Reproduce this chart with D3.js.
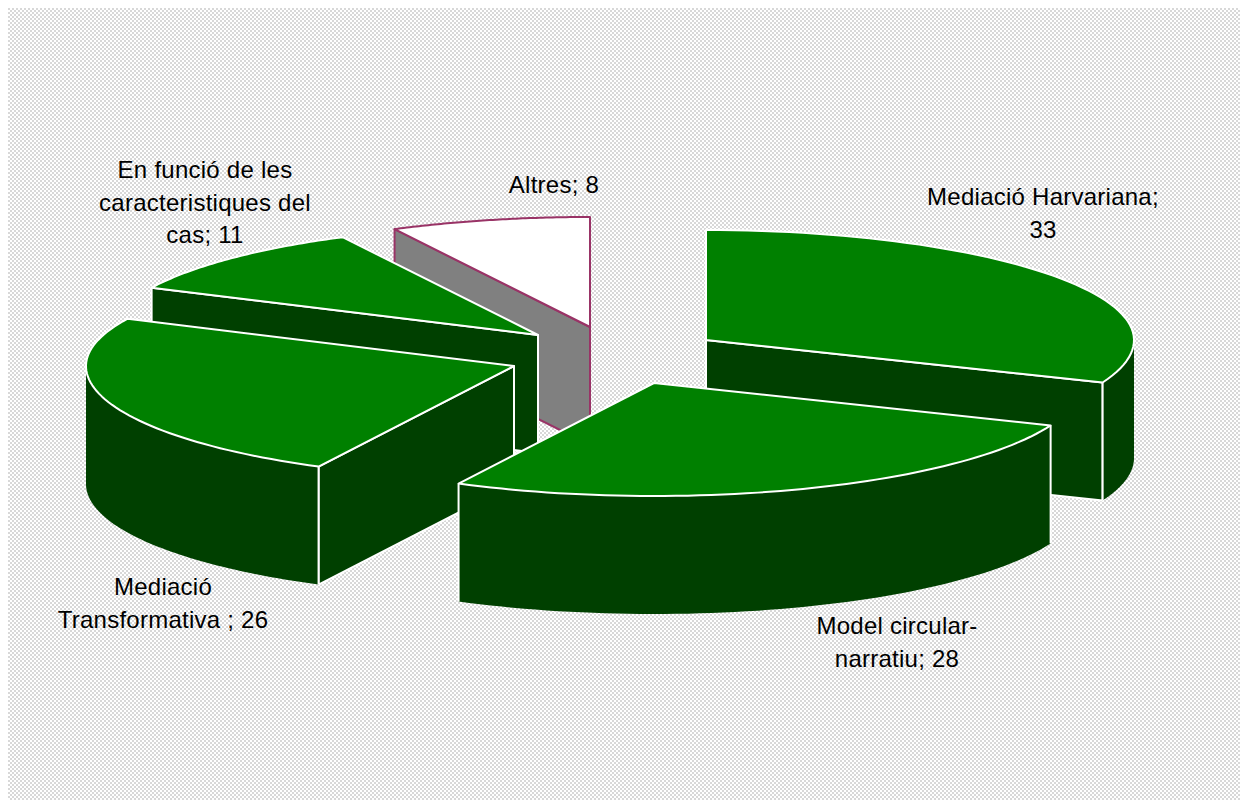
<!DOCTYPE html>
<html>
<head>
<meta charset="utf-8">
<script src="https://cdn.jsdelivr.net/npm/d3@7"></script>
<style>
  html, body { margin: 0; padding: 0; background: #fff; }
  text { font-family: "Liberation Sans", Arial, sans-serif; font-size: 24px; letter-spacing: 0.25px; fill: #000; }
</style>
</head>
<body>
<div id="chart"></div>
<script>
const categories = ['Mediació Harvariana', 'Model circular-narratiu', 'Mediació Transformativa ', 'En funció de les caracteristiques del cas', 'Altres'];
const values = [33, 28, 26, 11, 8];
const labelLines = [
  ['Mediació Harvariana;', '33'],
  ['Model circular-', 'narratiu; 28'],
  ['Mediació', 'Transformativa ; 26'],
  ['En funció de les', 'caracteristiques del', 'cas; 11'],
  ['Altres; 8']
];

// where each exploded slice has its apex, and where its label block sits
const apexes = [[706, 340], [654, 383], [514, 366], [538, 335], [590, 327]];
const labelPos = [[1043, 199], [897, 628], [163, 589], [205, 172], [554, 187]];
const drawOrder = [4, 3, 0, 2, 1];

const width = 1240, height = 800;
const rx = 428, ryBack = 110, ryFront = 113, depth = 118;

const svg = d3.select('#chart').append('svg')
  .attr('width', width)
  .attr('height', height)
  .style('display', 'block');

// dotted plot area
const pat = svg.append('defs').append('pattern')
  .attr('id', 'dots')
  .attr('patternUnits', 'userSpaceOnUse')
  .attr('width', 4)
  .attr('height', 4);
pat.append('rect').attr('width', 4).attr('height', 4).attr('fill', '#ffffff');
pat.append('rect').attr('x', 0).attr('y', 0).attr('width', 2).attr('height', 2).attr('fill', '#d8d8d8');
pat.append('rect').attr('x', 2).attr('y', 2).attr('width', 2).attr('height', 2).attr('fill', '#d8d8d8');

svg.append('rect')
  .attr('x', 8).attr('y', 8)
  .attr('width', width - 8).attr('height', height - 8)
  .attr('fill', 'url(#dots)');

const arcs = d3.pie().sort(null).startAngle(0).endAngle(2 * Math.PI)(values);

// tilted-disc projection of a pie angle, for a slice apex
function project(apex, angle, drop) {
  const x = d3.scaleLinear().domain([-1, 1]).range([apex[0] - rx, apex[0] + rx]);
  const c = Math.cos(angle);
  const ry = c < 0 ? ryFront : ryBack;
  return [x(Math.sin(angle)), apex[1] - ry * c + (drop || 0)];
}

function sampleAngles(a0, a1) {
  return d3.range(0, 61).map(i => a0 + (a1 - a0) * i / 60);
}

const line = d3.line();
const PI = Math.PI;

drawOrder.forEach(i => {
  const d = arcs[i];
  const apex = apexes[i];
  const isOther = i === 4;
  const wallFill = isOther ? '#808080' : '#004000';
  const topFill = isOther ? '#ffffff' : '#008000';
  const edge = isOther ? '#993366' : '#ffffff';
  const g = svg.append('g').attr('class', 'slice');

  // flat radial walls, only the ones facing the viewer
  const flat = [];
  if (Math.sin(d.startAngle) < -1e-6) flat.push(d.startAngle);
  if (Math.sin(d.endAngle) > 1e-6) flat.push(d.endAngle);
  flat.forEach(a => {
    const rim = project(apex, a);
    g.append('path')
      .attr('d', line([apex, rim, [rim[0], rim[1] + depth], [apex[0], apex[1] + depth]]) + 'Z')
      .attr('fill', wallFill)
      .attr('stroke', edge)
      .attr('stroke-width', 2)
      .attr('stroke-linejoin', 'round');
  });

  // curved outer wall, only the front half of the rim
  const a0 = Math.max(d.startAngle, PI / 2);
  const a1 = Math.min(d.endAngle, 3 * PI / 2);
  if (a1 > a0) {
    const angles = sampleAngles(a0, a1);
    const upper = angles.map(a => project(apex, a));
    const lower = angles.map(a => project(apex, a, depth)).reverse();
    g.append('path')
      .attr('d', line(upper.concat(lower)) + 'Z')
      .attr('fill', wallFill);
    // corner lines between the curved wall and a flat wall
    [d.startAngle, d.endAngle].forEach(a => {
      if (a > PI / 2 && a < 3 * PI / 2) {
        const p = project(apex, a);
        g.append('line')
          .attr('x1', p[0]).attr('y1', p[1])
          .attr('x2', p[0]).attr('y2', p[1] + depth)
          .attr('stroke', edge)
          .attr('stroke-width', 2);
      }
    });
  }

  // top face
  const rimPts = sampleAngles(d.startAngle, d.endAngle).map(a => project(apex, a));
  g.append('path')
    .attr('d', line([apex].concat(rimPts)) + 'Z')
    .attr('fill', topFill)
    .attr('stroke', edge)
    .attr('stroke-width', 2)
    .attr('stroke-linejoin', 'round');
});

// data labels
labelLines.forEach((lines, i) => {
  const t = svg.append('text')
    .attr('text-anchor', 'middle')
    .attr('x', labelPos[i][0])
    .attr('y', labelPos[i][1])
    .attr('data-category', categories[i]);
  lines.forEach((s, k) => {
    t.append('tspan')
      .attr('x', labelPos[i][0])
      .attr('y', labelPos[i][1] + k * 32.5)
      .attr('dominant-baseline', 'middle')
      .text(s);
  });
});
</script>
</body>
</html>
